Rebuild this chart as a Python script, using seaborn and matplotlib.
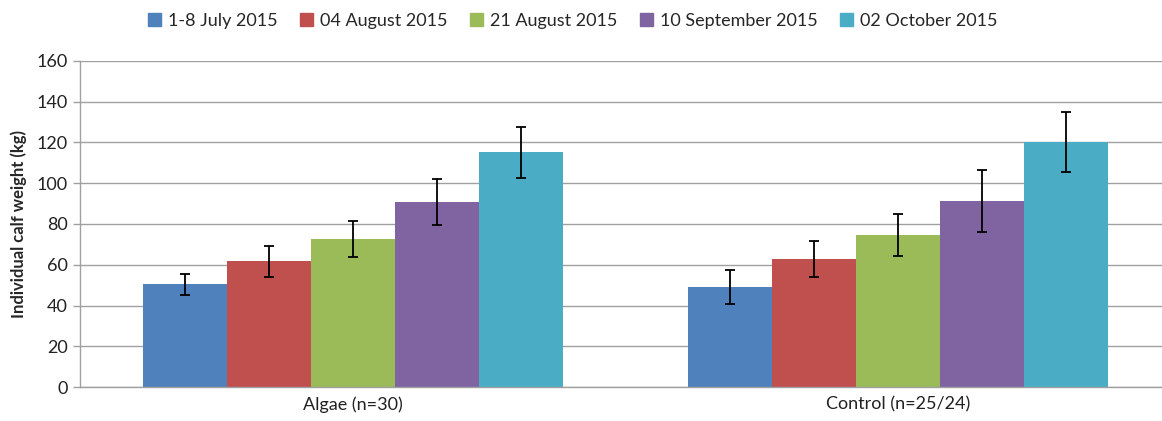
import matplotlib
matplotlib.use("Agg")
import matplotlib.pyplot as plt
import seaborn as sns
import pandas as pd
import numpy as np

groups = ["Algae (n=30)", "Control (n=25/24)"]
dates = ["1-8 July 2015", "04 August 2015", "21 August 2015",
         "10 September 2015", "02 October 2015"]
algae_mean = [50.5, 61.8, 72.6, 90.7, 115.1]
algae_err = [5.2, 7.6, 9.0, 11.3, 12.7]
control_mean = [48.9, 63.0, 74.6, 91.3, 120.2]
control_err = [8.3, 8.8, 10.2, 15.2, 14.8]
colors = ["#4F81BD", "#C0504D", "#9BBB59", "#8064A2", "#4BACC6"]

rows = []
for g, means, errs in [(groups[0], algae_mean, algae_err), (groups[1], control_mean, control_err)]:
    for d, m, e in zip(dates, means, errs):
        rows.append({"group": g, "date": d, "weight": m, "err": e})
df = pd.DataFrame(rows)

sns.set_style("white")
plt.rcParams['font.family'] = ['Lato', 'DejaVu Sans']

W, H = 1162, 421
fig = plt.figure(figsize=(W / 100, H / 100), dpi=100)
ax = fig.add_axes([80 / W, (H - 387) / H, 1091 / W, 326 / H])

sns.barplot(data=df, x="group", y="weight", hue="date", hue_order=dates,
            order=groups, palette=colors, width=0.77, errorbar=None,
            saturation=1, edgecolor="none", linewidth=0, ax=ax, zorder=2)

# error bars at bar centers
for container, d in zip(ax.containers, dates):
    for bar, g in zip(container, groups):
        row = df[(df.group == g) & (df.date == d)].iloc[0]
        cx = bar.get_x() + bar.get_width() / 2
        ax.errorbar(cx, bar.get_height(), yerr=row.err, fmt="none",
                    ecolor="black", elinewidth=1.3, capsize=3.5, capthick=1.3, zorder=3)

ax.set_ylim(0, 160)
ax.set_yticks(np.arange(0, 161, 20))
ax.set_xlim(-0.5, 1.5)
ax.yaxis.grid(True, color="#A0A0A0", linewidth=1.0, zorder=0)
ax.set_axisbelow(True)
for s in ["top", "right"]:
    ax.spines[s].set_visible(False)
for s in ["left", "bottom"]:
    ax.spines[s].set_color("#A0A0A0")
    ax.spines[s].set_linewidth(1.0)

ax.set_xticks([0, 1])
ax.set_xticklabels(groups, fontsize=13, color="#222222")
ax.set_xticks([-0.5, 0.5, 1.5], minor=True)
ax.tick_params(axis="x", which="major", length=0, pad=7)
ax.tick_params(axis="x", which="minor", length=5, color="#A0A0A0", width=1)
ax.tick_params(axis="y", which="major", left=True, length=5, color="#A0A0A0", width=1,
               labelsize=13, labelcolor="#222222", pad=4)
ax.set_xlabel("")
ax.set_ylabel("Individual calf weight (kg)", fontsize=12, fontweight="bold", labelpad=7)

leg = ax.get_legend()
if leg is not None:
    leg.remove()
handles = [plt.Rectangle((0, 0), 1, 1, color=c) for c in colors]
fig.legend(handles, dates, loc="center", bbox_to_anchor=(573 / W, 1 - 21 / H),
           ncol=5, frameon=False, fontsize=13, handlelength=0.7, handleheight=0.7,
           handletextpad=0.4, columnspacing=1.25)

fig.savefig("out.png", dpi=100)
